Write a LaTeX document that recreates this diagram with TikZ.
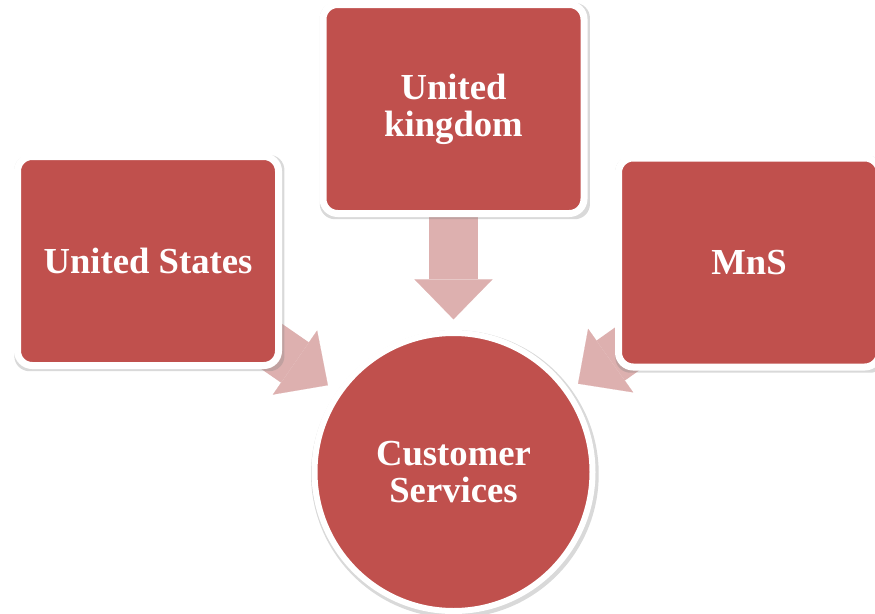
\documentclass[tikz,border=0pt]{standalone}
\usepackage{fontspec}
\setmainfont{Liberation Serif}
\usetikzlibrary{arrows.meta,shadows,backgrounds}
\definecolor{boxred}{HTML}{C0504D}
\definecolor{arrowpink}{HTML}{DDB0AF}

\begin{document}
\begin{tikzpicture}[x=0.75pt,y=-0.75pt,
    country/.style={rectangle, rounded corners=11pt, fill=boxred, draw=white,
        line width=5.25pt, minimum width=195.75pt, minimum height=156.75pt,
        inner sep=0pt, align=center, text=white,
        font=\bfseries\fontsize{27.5}{28}\selectfont,
        drop shadow={shadow scale=1.035, shadow xshift=1pt, shadow yshift=-1.5pt,
            opacity=0.3}},
    hub/.style={country, circle, minimum size=208.5pt, line width=4.5pt},
    flow/.style={draw=arrowpink, line width=36.75pt, shorten >=8pt,
        -{Triangle[width=58.5pt, length=30pt, line width=0.1pt]}}]
  \useasboundingbox (0,0) rectangle (875,614);

  % outer boxes and the hub
  \node[country] (us) at (148,261) {United States};
  \node[country] (uk) at (453.5,109) {United\\kingdom};
  \node[country] (mns) at (749,262.5) {MnS};
  \node[hub] (cs) at (453.5,472) {Customer\\Services};

  % block arrows sit behind the boxes
  \begin{scope}[on background layer]
    \draw[flow] (uk.center) -- (cs);
    \draw[flow] (us.center) -- (cs);
    \draw[flow] (mns.center) -- (cs);
  \end{scope}
\end{tikzpicture}
\end{document}
